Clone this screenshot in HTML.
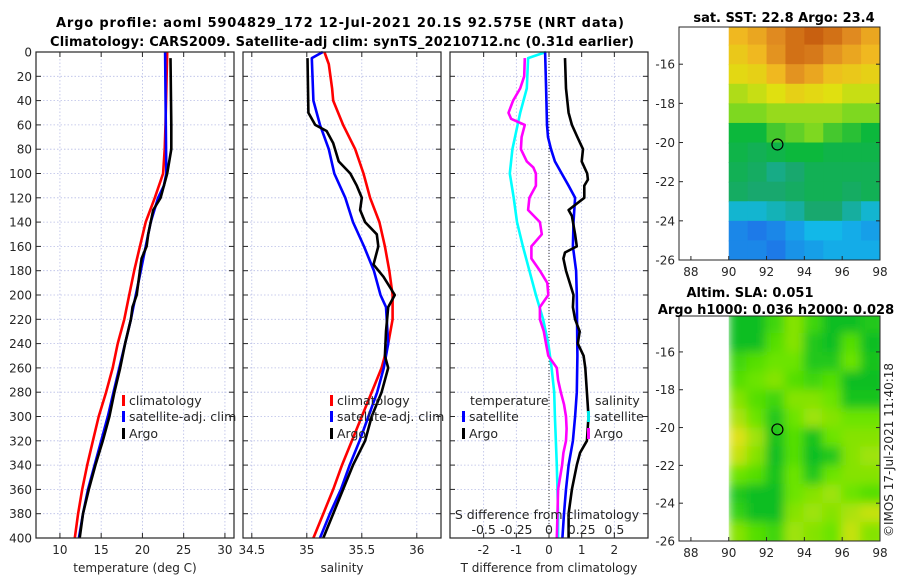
<!DOCTYPE html>
<html><head><meta charset="utf-8"><style>
html,body{margin:0;padding:0;background:#fff;}
svg{display:block;font-family:"DejaVu Sans","Liberation Sans",sans-serif;}
.tk{font-size:12px;fill:#262626;}
.ttl{font-size:13px;font-weight:bold;fill:#000;}
.lg{font-size:12.5px;fill:#262626;}
</style></head><body>
<svg id="fig" width="900" height="580" viewBox="0 0 900 580" xmlns="http://www.w3.org/2000/svg">
<defs>
<clipPath id="cm1"><rect x="679" y="27" width="201" height="233"/></clipPath>
<clipPath id="cm2"><rect x="679" y="316" width="201" height="225"/></clipPath>
<filter id="blur" x="-10%" y="-10%" width="120%" height="120%"><feGaussianBlur stdDeviation="5"/></filter>
</defs>
<text class="ttl" x="340" y="27" text-anchor="middle" textLength="568">Argo profile: aoml 5904829_172 12-Jul-2021 20.1S 92.575E (NRT data)</text>
<text class="ttl" x="342" y="46" text-anchor="middle" textLength="584">Climatology: CARS2009. Satellite-adj clim: synTS_20210712.nc (0.31d earlier)</text>
<g id="root"></g>
</svg>
<script>
// ---------- data ----------
const tClimDepth=[0,60,80,100,120,140,160,180,200,220,240,260,280,300,320,340,360,380,400];
const tClim=[23.0,22.8,22.7,22.5,21.5,20.4,19.7,19.0,18.4,17.8,17.0,16.4,15.6,14.7,14.0,13.3,12.7,12.2,11.8];
const tSatDepth=[0,100,110,120,140,160,180,200,220,240,260,280,300,320,340,360,380,400];
const tSat=[22.75,22.9,22.6,21.9,21.0,20.4,19.8,19.2,18.6,17.9,17.2,16.5,15.8,15.0,14.2,13.4,12.8,12.3];
const tArgoDepth=[5,60,80,100,120,130,150,160,170,180,200,210,220,240,260,280,300,320,340,360,380,400];
const tArgo=[23.4,23.5,23.5,23.0,22.2,21.3,20.7,20.5,19.9,19.7,19.3,18.8,18.6,17.9,17.3,16.6,16.0,15.2,14.3,13.5,12.8,12.4];

const sClimDepth=[0,10,30,40,60,80,100,120,140,160,180,200,220,240,260,280,300,320,340,360,380,400];
const sClim=[35.16,35.20,35.23,35.24,35.33,35.44,35.515,35.575,35.66,35.71,35.75,35.78,35.78,35.74,35.68,35.59,35.50,35.41,35.32,35.24,35.15,35.06];
const sSatDepth=[0,5,40,60,80,100,120,140,160,180,200,210,240,260,280,300,320,340,360,380,400];
const sSat=[35.145,35.045,35.06,35.12,35.20,35.25,35.35,35.42,35.52,35.61,35.67,35.72,35.74,35.70,35.64,35.56,35.48,35.39,35.31,35.21,35.12];
const sArgoDepth=[5,50,60,65,75,90,100,110,120,130,140,150,160,175,185,200,210,230,250,260,280,300,320,340,360,380,400];
const sArgo=[35.006,35.015,35.076,35.18,35.24,35.29,35.395,35.455,35.50,35.485,35.53,35.636,35.65,35.606,35.697,35.80,35.74,35.72,35.71,35.74,35.68,35.59,35.53,35.42,35.33,35.24,35.15];

const dTSatDepth=[0,30,60,70,80,90,100,110,120,140,160,180,200,250,280,300,320,340,360,380,400];
const dTSat=[-0.12,-0.09,-0.06,-0.03,0.06,0.18,0.39,0.6,0.8,0.75,0.73,0.83,0.85,0.87,0.85,0.80,0.73,0.60,0.52,0.46,0.41];
const dTArgoDepth=[5,30,50,60,70,80,90,100,105,110,120,130,135,150,160,165,170,180,200,210,220,230,240,250,260,280,300,320,330,340,360,380,400];
const dTArgo=[0.49,0.52,0.6,0.7,0.87,1.04,1.0,1.17,1.19,1.08,1.08,0.6,0.7,0.8,0.85,0.49,0.44,0.52,0.75,0.73,0.80,0.94,0.88,1.06,1.11,1.16,1.21,1.16,0.95,0.85,0.70,0.60,0.60];
const dSSatDepth=[0,5,30,50,60,80,90,100,120,140,160,180,200,220,240,260,280,300,340,380,400];
const dSSat=[-0.023,-0.16,-0.17,-0.22,-0.24,-0.28,-0.29,-0.30,-0.27,-0.245,-0.2,-0.15,-0.1,-0.045,-0.005,0.02,0.04,0.045,0.06,0.07,0.07];
const dSArgoDepth=[5,20,30,40,50,55,60,70,80,90,95,100,110,120,130,140,150,160,170,180,190,200,210,220,230,240,250,260,270,280,290,300,310,320,330,340,360,380,400];
const dSArgo=[-0.185,-0.19,-0.22,-0.275,-0.31,-0.29,-0.185,-0.21,-0.215,-0.17,-0.12,-0.1,-0.1,-0.15,-0.16,-0.07,-0.055,-0.135,-0.135,-0.07,-0.013,-0.005,-0.07,-0.07,-0.04,-0.023,-0.005,0.06,0.07,0.09,0.115,0.13,0.135,0.13,0.11,0.1,0.07,0.065,0.06];

const depthTicks=[0,20,40,60,80,100,120,140,160,180,200,220,240,260,280,300,320,340,360,380,400];
const tempTicks=[10,15,20,25,30];
const salTicks=[34.5,35,35.5,36];
const dTTicks=[-2,-1,0,1,2];
const dSTicks=[-0.5,-0.25,0,0.25,0.5];
const dSTickLabels=["-0.5","-0.25","0","0.25","0.5"];
const lonTicks=[88,90,92,94,96,98];
const latTicks=[-16,-18,-20,-22,-24,-26];

const sstLon0=90, sstLat0=-14;
const sstGrid=[
[23.8,24.0,24.3,24.6,24.8,24.6,24.3,24.0],
[23.6,23.8,24.2,24.6,24.5,24.2,24.0,23.8],
[23.4,23.5,23.8,24.2,24.0,23.7,23.6,23.5],
[23.1,23.2,23.3,23.5,23.4,23.3,23.2,23.2],
[22.9,22.9,23.0,23.0,23.0,23.0,22.9,22.9],
[22.5,22.5,22.7,22.8,22.9,22.7,22.6,22.5],
[22.4,22.3,22.4,22.5,22.5,22.4,22.4,22.4],
[22.3,22.2,22.0,22.1,22.3,22.3,22.3,22.3],
[22.2,22.1,22.1,22.2,22.3,22.3,22.2,22.3],
[21.7,21.7,21.8,21.9,22.1,22.1,21.9,21.7],
[21.2,21.1,21.2,21.4,21.6,21.6,21.5,21.4],
[21.2,21.2,21.1,21.3,21.4,21.5,21.5,21.5]];
const slaGrid=[
[0.05,0.05,0.3,0.6,0.3,0.05,0.05,0.15],
[0.05,0.05,0.4,0.6,0.15,0.05,0.4,0.05],
[0.3,0.4,0.5,0.5,0.15,0.15,0.5,0.1],
[0.4,0.5,0.6,0.4,0.3,0.4,0.05,0.05],
[0.6,0.4,0.3,0.6,0.6,0.5,0.1,0.1],
[0.75,0.5,0.15,0.5,0.7,0.6,0.5,0.5],
[0.95,0.7,0.1,0.4,0.1,0.5,0.6,0.6],
[0.85,0.6,0.05,0.4,0.05,0.15,0.6,0.7],
[0.5,0.4,0.1,0.5,0.15,0.5,0.6,0.6],
[0.15,0.05,0.05,0.5,0.6,0.7,0.5,0.4],
[0.25,0.05,0.05,0.6,0.7,0.6,0.75,0.85],
[0.6,0.4,0.3,0.7,0.6,0.5,0.85,0.6]];
const argoLon=92.575, argoLat=-20.1;

// ---------- drawing ----------
const NS="http://www.w3.org/2000/svg";
const root=document.getElementById('root');
function el(tag,attrs,parent){const e=document.createElementNS(NS,tag);for(const k in attrs)e.setAttribute(k,attrs[k]);(parent||root).appendChild(e);return e;}
function lin(d0,d1,r0,r1){return v=>r0+(v-d0)/(d1-d0)*(r1-r0);}
const Y0=52,Y1=538;
const yD=lin(0,400,Y0,Y1);

function panel(name,x0,x1,dom,ticks,labels,title,showY){
  const xs=lin(dom[0],dom[1],x0,x1);
  const g=el('g',{});
  
  
  depthTicks.forEach(d=>{const l=el('line',{x1:x0,x2:x1,y1:yD(d),y2:yD(d),stroke:'#b8bde6','stroke-width':0.8,'stroke-dasharray':'1.5,2'},g);});
  ticks.forEach(t=>{const l=el('line',{x1:xs(t),x2:xs(t),y1:Y0,y2:Y1,stroke:'#b8bde6','stroke-width':0.8,'stroke-dasharray':'1.5,2'},g);});
  depthTicks.forEach(d=>{el('line',{x1:x0,x2:x0+5,y1:yD(d),y2:yD(d),stroke:'#262626'},g);el('line',{x1:x1-5,x2:x1,y1:yD(d),y2:yD(d),stroke:'#262626'},g);
    if(showY){const t=el('text',{x:x0-4,y:yD(d)+4.5,'text-anchor':'end',class:'tk'},g);t.textContent=d;}});
  ticks.forEach((t,i)=>{el('line',{x1:xs(t),x2:xs(t),y1:Y1,y2:Y1-5,stroke:'#262626'},g);el('line',{x1:xs(t),x2:xs(t),y1:Y0,y2:Y0+5,stroke:'#262626'},g);
    const tx=el('text',{x:xs(t),y:554,'text-anchor':'middle',class:'tk'},g);tx.textContent=labels[i];});
  const at=el('text',{x:(x0+x1)/2,y:572,'text-anchor':'middle',class:'tk','font-size':'13'},g);at.textContent=title;
  
  return {xs,g,x0,x1};
}
function series(p,depths,vals,color,name,conv){
  const pts=depths.map((d,i)=>p.xs(conv?conv(vals[i]):vals[i]).toFixed(1)+','+yD(d).toFixed(1));
  const pl=el('polyline',{points:pts.join(' '),fill:'none',stroke:color,'stroke-width':2.6,'stroke-linejoin':'round'},p.g);
  
  
}
function frame(p){const r=el('rect',{x:p.x0,y:Y0,width:p.x1-p.x0,height:Y1-Y0,fill:'none',stroke:'#262626','stroke-width':1.2},p.g);}
function legendItem(g,x,y,color,label){
  const m=el('rect',{x:x,y:y-10,width:3,height:11,fill:color},g);
  
  
  const t=el('text',{x:x+7,y:y,class:'lg'},g);t.textContent=label;
  
  
}

const p1=panel('temperature-panel',36,234,[7.1,31.1],tempTicks,tempTicks.map(String),'temperature (deg C)',true);
series(p1,tClimDepth,tClim,'#ff0000','temp-climatology-line');
series(p1,tSatDepth,tSat,'#0000ff','temp-satellite-line');
series(p1,tArgoDepth,tArgo,'#000000','temp-argo-line');
frame(p1);
legendItem(p1.g,122,405,'#ff0000','climatology');
legendItem(p1.g,122,421,'#0000ff','satellite-adj. clim');
legendItem(p1.g,122,438,'#000000','Argo');

const p2=panel('salinity-panel',243,441,[34.42,36.22],salTicks,['34.5','35','35.5','36'],'salinity',false);
series(p2,sClimDepth,sClim,'#ff0000','sal-climatology-line');
series(p2,sSatDepth,sSat,'#0000ff','sal-satellite-line');
series(p2,sArgoDepth,sArgo,'#000000','sal-argo-line');
frame(p2);
legendItem(p2.g,330,405,'#ff0000','climatology');
legendItem(p2.g,330,421,'#0000ff','satellite-adj. clim');
legendItem(p2.g,330,438,'#000000','Argo');

const p3=panel('difference-panel',450,648,[-3.03,3.03],dTTicks,dTTicks.map(String),'T difference from climatology',false);
const zl=el('line',{x1:p3.xs(0),x2:p3.xs(0),y1:Y0,y2:Y1,stroke:'#333','stroke-width':1,'stroke-dasharray':'1,2'},p3.g);

const s2t=v=>v*4;
series(p3,dSSatDepth,dSSat,'#00ffff','sal-diff-satellite-line',s2t);
series(p3,dSArgoDepth,dSArgo,'#ff00ff','sal-diff-argo-line',s2t);
series(p3,dTSatDepth,dTSat,'#0000ff','temp-diff-satellite-line');
series(p3,dTArgoDepth,dTArgo,'#000000','temp-diff-argo-line');
frame(p3);
(function(){const t=el('text',{x:470,y:405,class:'lg'},p3.g);t.textContent='temperature';
const s=el('text',{x:595,y:405,class:'lg'},p3.g);s.textContent='salinity';})();
legendItem(p3.g,462,421,'#0000ff','satellite');
legendItem(p3.g,462,438,'#000000','Argo');
legendItem(p3.g,587,421,'#00e8e8','satellite');
legendItem(p3.g,587,438,'#ff00ff','Argo');
(function(){const t=el('text',{x:547,y:519,'text-anchor':'middle',class:'lg'},p3.g);t.textContent='S difference from climatology';
dSTicks.forEach((v,i)=>{const x=el('text',{x:p3.xs(s2t(v)),y:534,'text-anchor':'middle',class:'lg'},p3.g);x.textContent=dSTickLabels[i];});})();

// maps
const sstStops=[[21.0,[31,110,232]],[21.6,[18,184,232]],[22.1,[24,168,110]],[22.5,[12,184,60]],[22.9,[126,216,32]],[23.3,[224,224,16]],[23.8,[240,184,32]],[24.3,[224,138,32]],[24.8,[200,96,16]]];
const slaStops=[[0,[0,185,40]],[0.45,[95,228,0]],[1,[235,225,20]]];
function cmap(stops,v){if(v<=stops[0][0])return 'rgb('+stops[0][1]+')';for(let i=1;i<stops.length;i++){if(v<=stops[i][0]){const a=stops[i-1],b=stops[i],f=(v-a[0])/(b[0]-a[0]);return 'rgb('+a[1].map((c,j)=>Math.round(c+(b[1][j]-c)*f)).join(',')+')';}}return 'rgb('+stops[stops.length-1][1]+')';}
function mapPanel(name,y0,y1,grid,stops,clip,blur,titles){
  const g=el('g',{});
  
  
  const xs=lin(87.37,98,679,880), ys=lin(-14.1,-26,y0,y1);
  const cg=el('g',{'clip-path':'url(#'+clip+')'},g);
  const inner=el('g',blur?{filter:'url(#blur)'}:{},cg);
  grid.forEach((row,r)=>row.forEach((v,c)=>{
    const lon=sstLon0+c, lat=sstLat0-r;
    const cell=el('rect',{x:xs(lon)-(blur&&c>0?1:0),y:ys(lat)-(blur&&r==0?8:0),width:xs(lon+1)-xs(lon)+(blur&&c==7?8:1)+(blur&&c>0?1:0),height:ys(lat-1)-ys(lat)+1+(blur&&r==0?8:0)+(blur&&r==11?8:0),fill:cmap(stops,v)},inner);
    
    
  }));
  if(blur){const wm=el('rect',{x:679,y:y0,width:xs(90)-679,height:y1-y0,fill:'#fff'},cg);}
  const circ=el('circle',{cx:xs(argoLon),cy:ys(argoLat),r:5.5,fill:'none',stroke:'#000','stroke-width':1.2},g);
  
  
  el('rect',{x:679,y:y0,width:201,height:y1-y0,fill:'none',stroke:'#262626','stroke-width':1},g);
  latTicks.forEach(t=>{el('line',{x1:679,x2:683,y1:ys(t),y2:ys(t),stroke:'#262626'},g);el('line',{x1:876,x2:880,y1:ys(t),y2:ys(t),stroke:'#262626'},g);
    const tx=el('text',{x:675,y:ys(t)+4.5,'text-anchor':'end',class:'tk'},g);tx.textContent=t;});
  lonTicks.forEach(t=>{el('line',{x1:xs(t),x2:xs(t),y1:y1,y2:y1-4,stroke:'#262626'},g);
    const tx=el('text',{x:xs(t),y:y1+16,'text-anchor':'middle',class:'tk'},g);tx.textContent=t;});
  titles.forEach(([txt,x,y])=>{const t=el('text',{x:x,y:y,'text-anchor':'middle',class:'ttl'},g);t.textContent=txt;});
}
mapPanel('sst-map',27,260,sstGrid,sstStops,'cm1',false,[['sat. SST: 22.8 Argo: 23.4',784,22]]);
mapPanel('sla-map',316,541,slaGrid,slaStops,'cm2',true,[['Altim. SLA: 0.051',750,297],['Argo h1000: 0.036 h2000: 0.028',776,314]]);
(function(){const t=el('text',{x:0,y:0,'text-anchor':'middle',class:'tk',transform:'translate(893,450) rotate(-90)'});t.textContent='©IMOS 17-Jul-2021 11:40:18';
})();
</script>
</body></html>
